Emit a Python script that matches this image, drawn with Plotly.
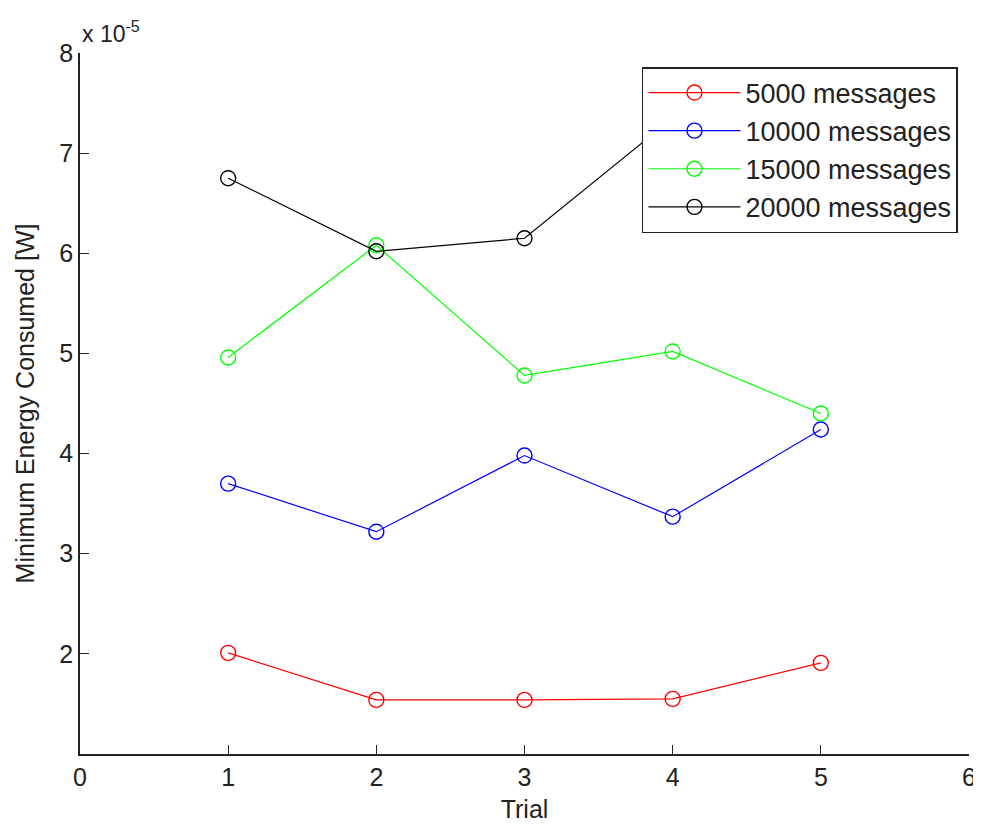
import plotly.graph_objects as go

trials = [1, 2, 3, 4, 5]
series_names = ["5000 messages", "10000 messages", "15000 messages", "20000 messages"]
colors = ["#ff0000", "#0000ff", "#00ff00", "#000000"]
vals_5000 = [2.01e-5, 1.54e-5, 1.54e-5, 1.55e-5, 1.91e-5]
vals_10000 = [3.70e-5, 3.22e-5, 3.98e-5, 3.37e-5, 4.24e-5]
vals_15000 = [4.96e-5, 6.08e-5, 4.78e-5, 5.02e-5, 4.40e-5]
vals_20000 = [6.75e-5, 6.02e-5, 6.15e-5, 7.35e-5, 7.10e-5]
series_values = [vals_5000, vals_10000, vals_15000, vals_20000]

x_ticks = [0, 1, 2, 3, 4, 5, 6]
y_tick_vals = [2e-5, 3e-5, 4e-5, 5e-5, 6e-5, 7e-5, 8e-5]
y_tick_text = ["2", "3", "4", "5", "6", "7", "8"]

FONT = "Liberation Sans, Arial, sans-serif"
INK = "#222222"

fig = go.Figure()
for name, col, vals in zip(series_names, colors, series_values):
    fig.add_trace(go.Scatter(
        x=trials, y=vals, name=name, mode="lines+markers",
        line=dict(color=col, width=1.2),
        marker=dict(symbol="circle-open", size=15, color=col, line=dict(width=1.4, color=col)),
    ))

fig.update_layout(
    width=981, height=828,
    paper_bgcolor="white", plot_bgcolor="white",
    margin=dict(l=72, r=20, t=45, b=82),
    font=dict(family=FONT, size=25, color=INK),
    showlegend=True,
    legend=dict(
        x=0.9876, y=0.980, xanchor="right", yanchor="top",
        bgcolor="white", bordercolor=INK, borderwidth=1.5,
        font=dict(family=FONT, size=27, color=INK),
        itemwidth=92,
    ),
    xaxis=dict(
        range=[0, 6], tickvals=x_ticks, ticks="inside", ticklen=9, automargin=False,
        tickcolor=INK, showline=True, linecolor=INK, linewidth=1.5,
        showgrid=False, zeroline=False,
        tickfont=dict(family=FONT, size=25, color=INK),
        title=dict(text="Trial", font=dict(family=FONT, size=25, color=INK), standoff=11),
    ),
    yaxis=dict(
        range=[1e-5, 8e-5], tickvals=y_tick_vals, ticktext=y_tick_text, automargin=False,
        ticks="inside", ticklen=9, tickcolor=INK,
        showline=True, linecolor=INK, linewidth=1.5,
        showgrid=False, zeroline=False,
        tickfont=dict(family=FONT, size=25, color=INK),
        title=dict(text="Minimum Energy Consumed [W]", font=dict(family=FONT, size=25, color=INK), standoff=18),
    ),
)

fig.add_annotation(
    text="x 10<sup>-5</sup>", xref="paper", yref="paper", x=0, y=1,
    xanchor="left", yanchor="bottom", showarrow=False, yshift=4,
    font=dict(family=FONT, size=23, color=INK),
)

fig.write_html("out.html")
